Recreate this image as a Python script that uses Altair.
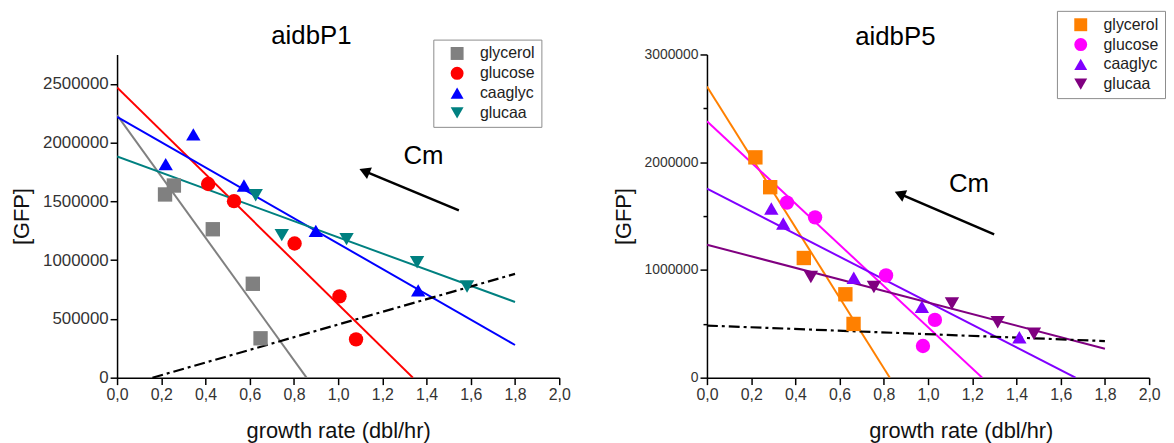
import altair as alt
import pandas as pd

SERIES = ["glycerol", "glucose", "caaglyc", "glucaa"]
SHAPES = ["square", "circle", "triangle-up", "triangle-down"]
FONT = "Liberation Sans"

# ---------------- aidbP1 ----------------
p1_title = "aidbP1"
p1_colors = ["#808080", "#ff0000", "#0000ff", "#008080"]
p1_glycerol_x = [0.217, 0.257, 0.433, 0.614, 0.649]
p1_glycerol_y = [1559000, 1635000, 1263000, 799000, 335000]
p1_glucose_x = [0.412, 0.529, 0.803, 1.006, 1.081]
p1_glucose_y = [1648000, 1502000, 1142000, 692000, 326000]
p1_caaglyc_x = [0.220, 0.345, 0.574, 0.899, 1.362]
p1_caaglyc_y = [1817000, 2070000, 1635000, 1249000, 743000]
p1_glucaa_x = [0.627, 0.745, 1.038, 1.357, 1.583]
p1_glucaa_y = [1553000, 1213000, 1179000, 982000, 776000]
# fitted lines (start / end)
p1_fit_x0 = [0.0, 0.0, 0.0, 0.0]
p1_fit_y0 = [2234000, 2470000, 2220000, 1882000]
p1_fit_x1 = [0.857, 1.338, 1.80, 1.80]
p1_fit_y1 = [0, 0, 278000, 644000]
# dash-dot reference line
p1_ref_x = [0.16, 1.80]
p1_ref_y = [0, 883000]
# Cm arrow (tail, head) and label
p1_arrow_x = [1.546, 1.119]
p1_arrow_y = [1424000, 1757000]
p1_cm_xy = [1.386, 1814000]

# ---------------- aidbP5 ----------------
p5_title = "aidbP5"
p5_colors = ["#ff8000", "#ff00ff", "#8000ff", "#800080"]
p5_glycerol_x = [0.219, 0.286, 0.438, 0.626, 0.663]
p5_glycerol_y = [2045000, 1768000, 1111000, 774000, 499000]
p5_glucose_x = [0.362, 0.489, 0.810, 1.031, 0.977]
p5_glucose_y = [1625000, 1488000, 949000, 536000, 294000]
p5_caaglyc_x = [0.291, 0.345, 0.664, 0.972, 1.413]
p5_caaglyc_y = [1570000, 1432000, 927000, 658000, 376000]
p5_glucaa_x = [0.470, 0.755, 1.108, 1.315, 1.479]
p5_glucaa_y = [934000, 842000, 689000, 514000, 407000]
p5_fit_x0 = [0.0, 0.0, 0.0, 0.0]
p5_fit_y0 = [2703000, 2381000, 1754000, 1234000]
p5_fit_x1 = [0.827, 1.245, 1.667, 1.80]
p5_fit_y1 = [0, 0, 0, 269000]
p5_ref_x = [0.0, 1.80]
p5_ref_y = [484000, 340000]
p5_arrow_x = [1.299, 0.872]
p5_arrow_y = [1330000, 1706000]
p5_cm_xy = [1.185, 1728000]

X_TICKS = [round(i * 0.1, 1) for i in range(21)]


def major_test(step):
    return f"abs(datum.value/{step} - round(datum.value/{step})) < 1e-6"


def panel(title, title_pos, xs, ys, fx0, fy0, fx1, fy1,
          ref_x, ref_y, arrow_x, arrow_y, cm_xy, colors,
          ymax, ystep_minor, ystep_major, ylabel_size,
          legend_x, legend_y, xtitle_x):
    pts = pd.DataFrame({
        "x": sum(xs, []),
        "y": sum(ys, []),
        "series": sum([[s] * len(v) for s, v in zip(SERIES, xs)], []),
    })
    fits = pd.DataFrame({
        "x": fx0 + fx1,
        "y": fy0 + fy1,
        "series": SERIES + SERIES,
        "lc": colors + colors,
    })
    ref = pd.DataFrame({"x": ref_x, "y": ref_y})
    arrow = pd.DataFrame({"x": [arrow_x[0]], "y": [arrow_y[0]],
                          "x2": [arrow_x[1]], "y2": [arrow_y[1]]})
    head = pd.DataFrame({"x": [arrow_x[1]], "y": [arrow_y[1]]})
    cm = pd.DataFrame({"x": [cm_xy[0]], "y": [cm_xy[1]], "t": ["Cm"]})
    ttl = pd.DataFrame({"t": [title]})

    xscale = alt.Scale(domain=[0, 2], nice=False, zero=False)
    yscale = alt.Scale(domain=[0, ymax], nice=False)
    y_ticks = list(range(0, ymax + 1, ystep_minor))

    xaxis_kw = dict(
        values=X_TICKS,
        title="growth rate (dbl/hr)",
        labelExpr=f"{major_test(0.2)} ? replace(format(datum.value, '.1f'), '.', ',') : ''",
        tickSize={"condition": {"test": major_test(0.2), "value": 7}, "value": 4},
        labelFontSize=16,
        labelPadding=2,
        titleFontSize=22,
        titlePadding=18,
        labelOverlap=False,
        labelFlush=False,
    )
    if xtitle_x is not None:
        xaxis_kw["titleX"] = xtitle_x
        xaxis_kw["titleAlign"] = "center"
    xaxis = alt.Axis(**xaxis_kw)
    yaxis = alt.Axis(
        values=y_ticks,
        title="[GFP]",
        labelExpr=f"{major_test(ystep_major)} ? format(datum.value, 'd') : ''",
        tickSize={"condition": {"test": major_test(ystep_major), "value": 7}, "value": 4},
        labelFontSize=ylabel_size,
        labelPadding=2,
        titleFontSize=22,
        titlePadding=9,
        labelOverlap=False,
        labelFlush=False,
    )

    legend = alt.Legend(
        title=None, orient="none", legendX=legend_x, legendY=legend_y,
        strokeColor="#8c8c8c", fillColor="white", padding=6,
        labelFontSize=16, labelFont=FONT, labelColor="#222",
        symbolSize=170, symbolOffset=10, labelOffset=15, rowPadding=4,
        symbolOpacity=1, symbolStrokeWidth=0,
    )

    base_x = alt.X("x:Q", scale=xscale, axis=xaxis)
    base_y = alt.Y("y:Q", scale=yscale, axis=yaxis)

    lines = alt.Chart(fits).mark_line(strokeWidth=2, clip=True).encode(
        x=base_x, y=base_y,
        color=alt.Color("lc:N", scale=None),
        detail="series:N",
    )
    ref_line = alt.Chart(ref).mark_line(
        strokeWidth=2.2, color="black", strokeDash=[11, 4, 3, 4]
    ).encode(x="x:Q", y="y:Q")
    points = alt.Chart(pts).mark_point(filled=True, opacity=1, size=210).encode(
        x="x:Q", y="y:Q",
        color=alt.Color("series:N", sort=SERIES,
                        scale=alt.Scale(domain=SERIES, range=colors), legend=legend),
        shape=alt.Shape("series:N", sort=SERIES,
                        scale=alt.Scale(domain=SERIES, range=SHAPES), legend=legend),
    )
    rule = alt.Chart(arrow).mark_rule(strokeWidth=2.5, color="black").encode(
        x="x:Q", y="y:Q", x2="x2:Q", y2="y2:Q"
    )
    arrow_head = alt.Chart(head).mark_point(
        shape="triangle-up", angle=293, filled=True, color="black", opacity=1, size=160
    ).encode(x="x:Q", y="y:Q")
    cm_text = alt.Chart(cm).mark_text(
        fontSize=26, font=FONT, color="black", align="center", baseline="alphabetic"
    ).encode(x="x:Q", y="y:Q", text="t:N")
    title_text = alt.Chart(ttl).mark_text(
        fontSize=26, font=FONT, color="black", align="center", baseline="alphabetic"
    ).encode(x=alt.value(title_pos[0]), y=alt.value(title_pos[1]), text="t:N")

    return alt.layer(lines, ref_line, points, rule, arrow_head, cm_text, title_text).properties(
        width=446, height=326,
    )


left = panel(p1_title, (196, -11),
             [p1_glycerol_x, p1_glucose_x, p1_caaglyc_x, p1_glucaa_x],
             [p1_glycerol_y, p1_glucose_y, p1_caaglyc_y, p1_glucaa_y],
             p1_fit_x0, p1_fit_y0, p1_fit_x1, p1_fit_y1,
             p1_ref_x, p1_ref_y, p1_arrow_x, p1_arrow_y, p1_cm_xy, p1_colors,
             2750000, 250000, 500000, 17, 319, -15, None)

right = panel(p5_title, (190, -10),
              [p5_glycerol_x, p5_glucose_x, p5_caaglyc_x, p5_glucaa_x],
              [p5_glycerol_y, p5_glucose_y, p5_caaglyc_y, p5_glucaa_y],
              p5_fit_x0, p5_fit_y0, p5_fit_x1, p5_fit_y1,
              p5_ref_x, p5_ref_y, p5_arrow_x, p5_arrow_y, p5_cm_xy, p5_colors,
              3000000, 500000, 1000000, 14, 353, -44, 256)

chart = alt.hconcat(left, right, spacing=41).resolve_scale(
    color="independent", shape="independent"
).properties(
    padding={"left": 2, "top": 0, "right": 0, "bottom": 0}
).configure_view(stroke=None).configure_axis(
    grid=False, domainColor="black", domainWidth=1.5, tickColor="black", tickWidth=1.5,
    labelColor="#333333", labelFont=FONT, titleFont=FONT, titleFontWeight="normal",
    titleColor="#111111",
).configure_legend(labelFont=FONT)

chart.save("out.html", embed_options={"renderer": "svg", "actions": False})
